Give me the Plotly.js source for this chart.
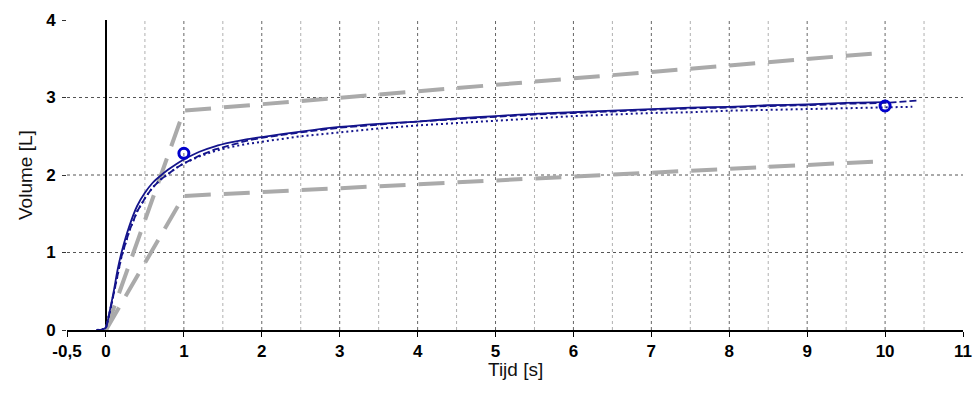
<!DOCTYPE html>
<html>
<head>
<meta charset="utf-8">
<script src="https://cdn.plot.ly/plotly-3.0.1.min.js"></script>
<style>html,body{margin:0;padding:0;background:#fff;}#chart{width:980px;height:394px;}</style>
</head>
<body>
<div id="chart"></div>
<script>
// Measured curves (Tijd [s] vs Volume [L])
const solidX = [-0.12,-0.05,0,0.03,0.06,0.1,0.15,0.2,0.3,0.4,0.5,0.6,0.7,0.8,0.9,1.0,1.2,1.4,1.6,1.8,2.0,2.5,3,3.5,4,4.5,5,5.5,6,6.5,7,7.5,8,8.5,9,9.5,10];
const solidY = [0,0.005,0.03,0.15,0.3,0.5,0.78,1.0,1.34,1.6,1.77,1.9,1.99,2.07,2.14,2.2,2.3,2.37,2.42,2.46,2.49,2.56,2.62,2.66,2.69,2.73,2.76,2.79,2.81,2.83,2.85,2.87,2.88,2.9,2.91,2.93,2.94];

const dashX = [-0.12,-0.05,0,0.03,0.06,0.1,0.15,0.2,0.3,0.4,0.5,0.6,0.7,0.8,0.9,1.0,1.2,1.4,1.6,1.8,2.0,2.5,3,3.5,4,4.5,5,5.5,6,6.5,7,7.5,8,8.5,9,9.5,10,10.42];
const dashY = [0,0.005,0.03,0.14,0.28,0.47,0.73,0.95,1.28,1.53,1.70,1.84,1.94,2.02,2.09,2.15,2.25,2.33,2.39,2.44,2.48,2.55,2.61,2.65,2.69,2.72,2.75,2.78,2.80,2.82,2.84,2.86,2.87,2.89,2.90,2.92,2.93,2.96];

const dotX = [-0.12,-0.05,0,0.03,0.06,0.1,0.15,0.2,0.3,0.4,0.5,0.6,0.7,0.8,0.9,1.0,1.2,1.4,1.6,1.8,2.0,2.5,3,3.5,4,4.5,5,5.5,6,6.5,7,7.5,8,8.5,9,9.5,10,10.35];
const dotY = [0,0.005,0.03,0.14,0.28,0.47,0.73,0.95,1.28,1.53,1.70,1.84,1.94,2.02,2.09,2.15,2.24,2.31,2.36,2.40,2.43,2.50,2.55,2.60,2.64,2.67,2.70,2.73,2.76,2.78,2.80,2.81,2.83,2.84,2.85,2.86,2.87,2.88];

const markX = [1, 10];
const markY = [2.28, 2.89];

const upperX = [0, 1, 10];
const upperY = [0, 2.83, 3.58];
const lowerX = [0, 1, 10];
const lowerY = [0, 1.73, 2.18];

const xTickVals = [-0.5,0,1,2,3,4,5,6,7,8,9,10,11];
const xTickText = ['-0,5','0','1','2','3','4','5','6','7','8','9','10','11'];
const yTickVals = [0,1,2,3,4];
const xMinorGrid = [0.5,1.5,2.5,3.5,4.5,5.5,6.5,7.5,8.5,9.5,10.5];
const xMajorGrid = [1,2,3,4,5,6,7,8,9,10];
const yGrid = [1,2,3];

const xRange = [-0.5, 11];
const yRange = [0, 4];

const blue = '#14148c';
const gray = '#aaaaaa';

const traces = [
  {x: upperX, y: upperY, mode: 'lines', line: {color: gray, width: 4, dash: '26px,13px'}},
  {x: lowerX, y: lowerY, mode: 'lines', line: {color: gray, width: 4, dash: '26px,13px'}},
  {x: dotX, y: dotY, mode: 'lines', line: {color: blue, width: 2, dash: '2px,3px'}},
  {x: dashX, y: dashY, mode: 'lines', line: {color: blue, width: 1.8, dash: '7px,3px'}},
  {x: solidX, y: solidY, mode: 'lines', line: {color: blue, width: 1.8, shape: 'spline', smoothing: 0.6}},
  {x: markX, y: markY, mode: 'markers', marker: {symbol: 'circle-open', size: 10, color: '#0000cc', line: {width: 3, color: '#0000cc'}}}
];

const shapes = [];
xMinorGrid.forEach(v => shapes.push({type: 'line', xref: 'x', yref: 'y', x0: v, x1: v, y0: yRange[0], y1: yRange[1], layer: 'below', line: {color: '#b0b0b0', width: 1, dash: 'dot'}}));
xMajorGrid.forEach(v => shapes.push({type: 'line', xref: 'x', yref: 'y', x0: v, x1: v, y0: yRange[0], y1: yRange[1], layer: 'below', line: {color: '#666666', width: 1, dash: 'dot'}}));
yGrid.forEach(v => shapes.push({type: 'line', xref: 'x', yref: 'y', x0: xRange[0], x1: xRange[1], y0: v, y1: v, layer: 'below', line: {color: '#555555', width: 1, dash: 'dot'}}));

const tickFont = {family: 'Liberation Sans, Arial, sans-serif', size: 17, color: '#000', weight: 700};
const titleFont = {family: 'Liberation Sans, Arial, sans-serif', size: 19, color: '#111'};

const layout = {
  width: 980, height: 394,
  margin: {l: 67, r: 17, t: 20, b: 64},
  paper_bgcolor: '#fff', plot_bgcolor: '#fff',
  showlegend: false,
  xaxis: {
    range: xRange, tickmode: 'array', tickvals: xTickVals, ticktext: xTickText,
    ticks: 'outside', ticklen: 5, tickwidth: 1, tickcolor: '#000',
    showline: true, linecolor: '#000', linewidth: 1.5,
    showgrid: false, zeroline: true, zerolinecolor: '#000', zerolinewidth: 2,
    tickfont: tickFont, fixedrange: true
  },
  yaxis: {
    range: yRange, tickmode: 'array', tickvals: yTickVals,
    ticks: 'outside', ticklen: 4, tickwidth: 1, tickcolor: '#333',
    showline: false, showgrid: false, zeroline: false,
    tickfont: tickFont, ticklabelstandoff: 3, fixedrange: true
  },
  shapes: shapes,
  annotations: [
    {text: 'Tijd [s]', xref: 'paper', yref: 'paper', x: 0.5, y: 0, xanchor: 'center', yanchor: 'middle', yshift: -39, showarrow: false, font: titleFont},
    {text: 'Volume [L]', xref: 'paper', yref: 'paper', x: 0, y: 0.5, xanchor: 'center', yanchor: 'middle', xshift: -42, textangle: -90, showarrow: false, font: titleFont}
  ]
};

Plotly.newPlot('chart', traces, layout, {displayModeBar: false, staticPlot: true});
</script>
</body>
</html>
